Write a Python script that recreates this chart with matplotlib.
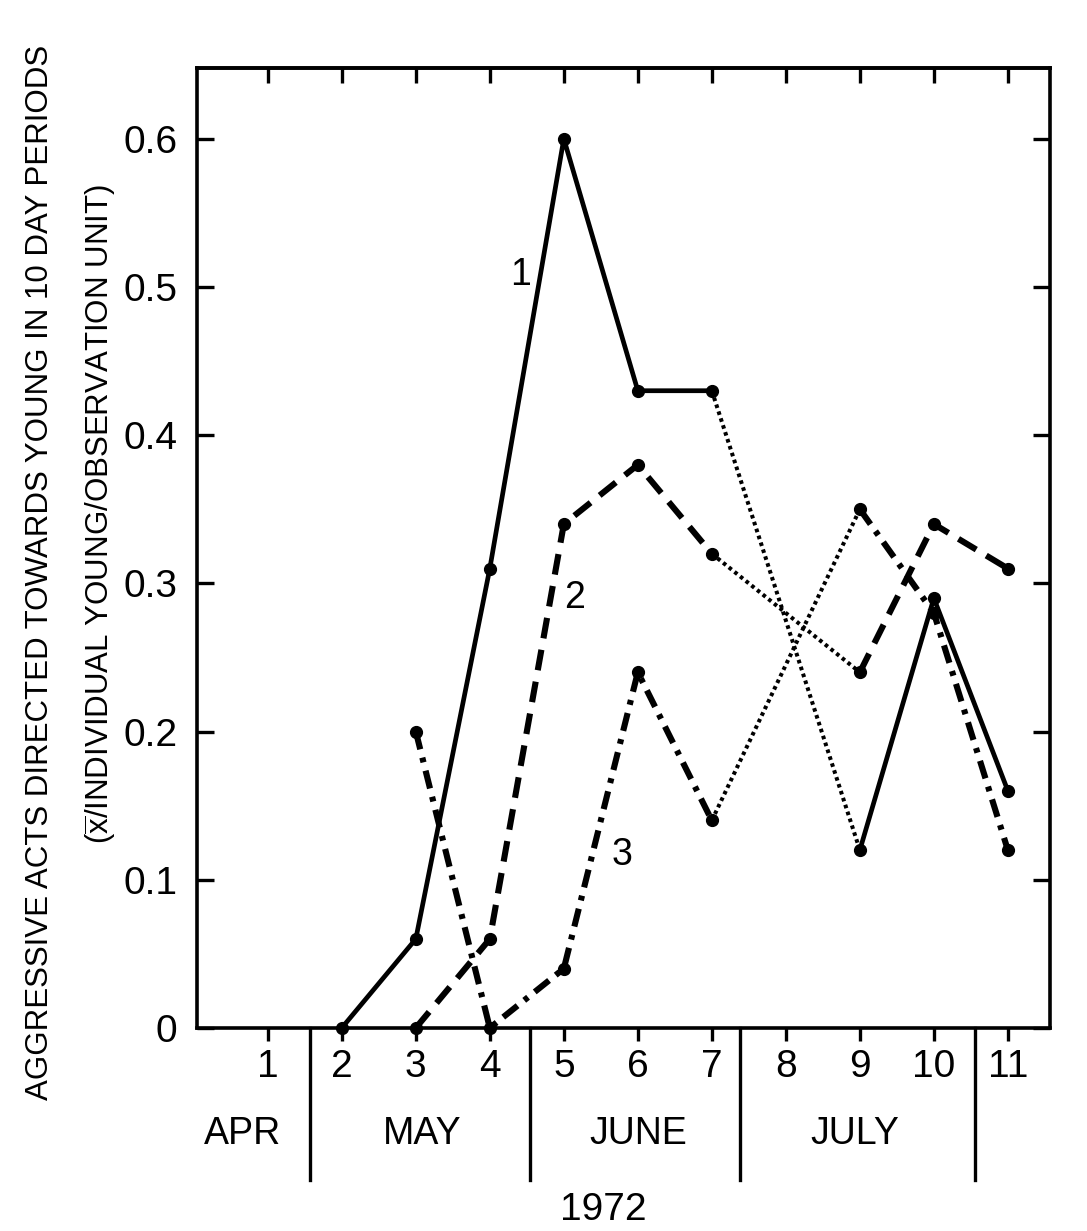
import matplotlib
matplotlib.use("Agg")
from matplotlib import pyplot as plt
from matplotlib import transforms

# periods (10 day blocks) and values
periods_1 = [2, 3, 4, 5, 6, 7, 9, 10, 11]
values_1 = [0.0, 0.06, 0.31, 0.60, 0.43, 0.43, 0.12, 0.29, 0.16]

periods_2 = [3, 4, 5, 6, 7, 9, 10, 11]
values_2 = [0.0, 0.06, 0.34, 0.38, 0.32, 0.24, 0.34, 0.31]

periods_3 = [3, 4, 5, 6, 7, 9, 10, 11]
values_3 = [0.20, 0.0, 0.04, 0.24, 0.14, 0.35, 0.28, 0.12]

period_ticks = list(range(1, 12))
y_ticks = [0, 0.1, 0.2, 0.3, 0.4, 0.5, 0.6]
y_tick_labels = ["0", "0.1", "0.2", "0.3", "0.4", "0.5", "0.6"]

months = ["APR", "MAY", "JUNE", "JULY"]
month_centers = [0.66, 3.09, 6.0, 8.93]
month_bounds = [1.57, 4.54, 7.38, 10.55]
year = "1972"

plt.rcParams["font.family"] = ["Liberation Sans", "DejaVu Sans"]
plt.rcParams["mathtext.fontset"] = "custom"
plt.rcParams["mathtext.rm"] = "Liberation Sans"


def drawSeries(ax, xs, ys, style):
    """ line before the gap, dotted bridge over period 8, line after """
    before = [(x, y) for x, y in zip(xs, ys) if x <= 7]
    after = [(x, y) for x, y in zip(xs, ys) if x >= 9]
    for part in (before, after):
        px = [p[0] for p in part]
        py = [p[1] for p in part]
        ax.plot(px, py, color="black", marker="o", markersize=8.5, clip_on=False, **style)
    ax.plot([before[-1][0], after[0][0]], [before[-1][1], after[0][1]],
            color="black", linestyle=(0, (0.9, 0.9)), linewidth=2.9, zorder=1)


fig = plt.figure(figsize=(10.87, 12.31), dpi=100)
ax = fig.add_axes([0.181, 0.165, 0.785, 0.780])

drawSeries(ax, periods_1, values_1, dict(linewidth=3.4, linestyle="-"))
drawSeries(ax, periods_2, values_2, dict(linewidth=4.4, linestyle=(0, (3.4, 1.9))))
drawSeries(ax, periods_3, values_3, dict(linewidth=4.4, linestyle=(0, (3.0, 1.4, 0.8, 1.4))))

ax.text(4.41, 0.508, "1", fontsize=27, ha="center", va="center")
ax.text(5.15, 0.29, "2", fontsize=27, ha="center", va="center")
ax.text(5.78, 0.117, "3", fontsize=27, ha="center", va="center")

ax.set_xlim(0.04, 11.57)
ax.set_ylim(0, 0.648)

for s in ax.spines.values():
    s.set_linewidth(2.6)

ax.set_yticks(y_ticks)
ax.set_yticklabels(y_tick_labels, fontsize=28)
ax.tick_params(axis="y", direction="in", length=12, width=2.4, pad=14, left=True, right=True)

ax.set_xticks(period_ticks)
ax.set_xticklabels([str(p) for p in period_ticks], fontsize=28)
ax.tick_params(axis="x", direction="out", length=9, width=2.4, pad=6, bottom=True)

# inward ticks along the top edge
top = ax.secondary_xaxis("top")
top.set_xticks(period_ticks)
top.set_xticklabels([])
top.tick_params(direction="in", length=11, width=2.4)
top.spines["top"].set_linewidth(2.6)

# month separators and names below the axis
trans = transforms.blended_transform_factory(ax.transData, ax.transAxes)
for b in month_bounds:
    ax.plot([b, b], [0, -0.158], color="black", linewidth=2.4, transform=trans, clip_on=False)
for name, c in zip(months, month_centers):
    ax.text(c, -0.111, name, transform=trans, fontsize=27, ha="center", va="center")
ax.text(5.53, -0.19, year, transform=trans, fontsize=28, ha="center", va="center")

fig.text(0.037, 0.535, "AGGRESSIVE ACTS DIRECTED TOWARDS YOUNG IN 10 DAY PERIODS",
         rotation=90, fontsize=22.5, ha="center", va="center")
fig.text(0.092, 0.582, r"($\overline{\mathrm{x}}$/INDIVIDUAL YOUNG/OBSERVATION UNIT)",
         rotation=90, fontsize=22.5, ha="center", va="center")

fig.savefig("out.png", dpi=100)
